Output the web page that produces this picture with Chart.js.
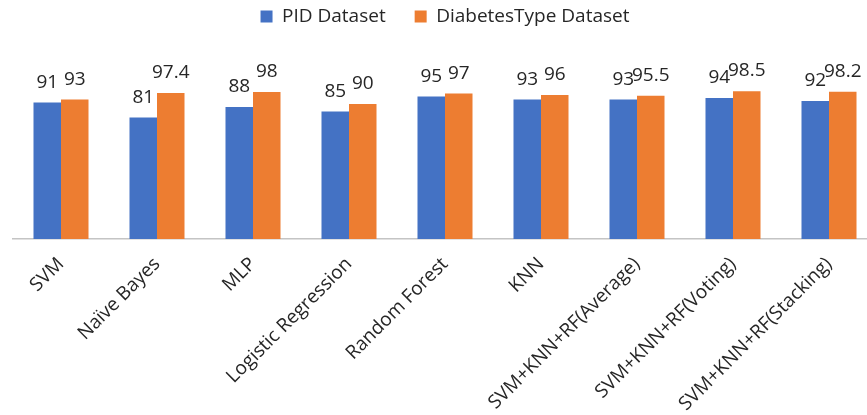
<!DOCTYPE html>
<html>
<head>
<meta charset="utf-8">
<script src="https://cdn.jsdelivr.net/npm/chart.js@4/dist/chart.umd.min.js"></script>
<style>
  html, body { margin: 0; padding: 0; background: #fff; overflow: hidden; }
  #wrap { width: 867px; height: 415px; overflow: hidden; }
  canvas { display: block; }
</style>
</head>
<body>
<div id="wrap"><canvas id="c" width="900" height="415"></canvas></div>
<script>
// Model names on the x axis
const categories = [
  'SVM', 'Naïve Bayes', 'MLP', 'Logistic Regression', 'Random Forest',
  'KNN', 'SVM+KNN+RF(Average)', 'SVM+KNN+RF(Voting)', 'SVM+KNN+RF(Stacking)'
];
// Accuracy (%) on each dataset
const pidValues = [91, 81, 88, 85, 95, 93, 93, 94, 92];
const diabetesTypeValues = [93, 97.4, 98, 90, 97, 96, 95.5, 98.5, 98.2];
const seriesNames = ['PID Dataset', 'DiabetesType Dataset'];

const FONT = '"Open Sans", "Liberation Sans", sans-serif';
const TEXT = '#262626';

// Value labels drawn above every bar
const barValueLabels = {
  id: 'barValueLabels',
  afterDatasetsDraw(chart) {
    const ctx = chart.ctx;
    ctx.save();
    ctx.font = '19px ' + FONT;
    ctx.fillStyle = TEXT;
    ctx.textAlign = 'center';
    ctx.textBaseline = 'alphabetic';
    chart.data.datasets.forEach((ds, i) => {
      chart.getDatasetMeta(i).data.forEach((bar, j) => {
        ctx.fillText(String(ds.data[j]), bar.x, bar.y - 15);
      });
    });
    ctx.restore();
  }
};

// Fixed legend band height so the plot starts at the same place every time
const legendHeight = {
  id: 'legendHeight',
  beforeLayout(chart) {
    const lg = chart.legend;
    if (lg && !lg._fixedFit) {
      const fit = lg.fit;
      lg.fit = function () { fit.call(this); this.height = 111; };
      lg._fixedFit = true;
    }
  }
};

new Chart(document.getElementById('c'), {
  type: 'bar',
  data: {
    labels: categories,
    datasets: [
      { label: seriesNames[0], data: pidValues, backgroundColor: '#4472C4' },
      { label: seriesNames[1], data: diabetesTypeValues, backgroundColor: '#ED7D31' }
    ]
  },
  options: {
    responsive: false,
    animation: false,
    devicePixelRatio: 1,
    layout: { padding: { top: -22, left: 13, right: 23, bottom: 0 } },
    datasets: { bar: { categoryPercentage: 0.573, barPercentage: 1 } },
    plugins: {
      legend: {
        position: 'top',
        labels: {
          boxWidth: 12, boxHeight: 12, padding: 29,
          color: TEXT, font: { family: FONT, size: 19 }
        }
      },
      tooltip: { enabled: false }
    },
    scales: {
      x: {
        grid: { display: false, drawTicks: false },
        border: { display: true, color: '#c4c4c4', width: 1.5 },
        ticks: {
          autoSkip: false, minRotation: 45, maxRotation: 45, padding: 14,
          color: TEXT, font: { family: FONT, size: 19 }
        },
        afterFit(scale) { scale.height = 415 - 239; }
      },
      y: { display: false, min: 0, max: 100 }
    }
  },
  plugins: [barValueLabels, legendHeight]
});
</script>
</body>
</html>
